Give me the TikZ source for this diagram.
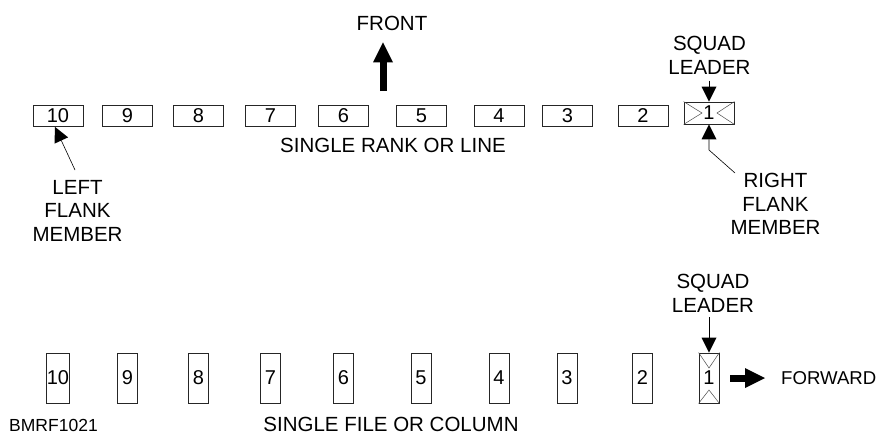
\documentclass[tikz,border=0pt]{standalone}
\usepackage{fontspec}
\setmainfont{Liberation Sans}
\usetikzlibrary{arrows.meta}
\begin{document}
\begin{tikzpicture}[x=1pt,y=-1pt,
  lbl/.style={font=\fontsize{20.5}{23.5}\selectfont, align=center, inner sep=0pt},
  hbox/.style={draw=black!85, line width=0.8pt, minimum width=50pt, minimum height=21pt, inner sep=0pt, font=\fontsize{20}{23.5}\selectfont},
  vbox/.style={draw=black!85, line width=0.8pt, minimum width=20pt, minimum height=50pt, inner sep=0pt, font=\fontsize{20}{23.5}\selectfont},
  xline/.style={draw=black!70, line width=0.5pt},
  ptr/.style={line width=0.6pt, -{Triangle[width=15pt,length=15pt,line width=0pt]}},
  bigarrow/.style={line width=7pt, -{Triangle[width=20pt,length=20pt,line width=0pt]}}]

\useasboundingbox[fill=white] (0,0) rectangle (884,434);

% single rank or line
\foreach \n/\x in {10/58,9/127.5,8/198.5,7/270.5,6/343.5,5/421.5,4/499,3/567.5,2/643}
  \node[hbox] (t\n) at (\x,116) {\n};
\node[hbox, minimum height=22pt] (t1) at (709,113) {1};
\draw[xline] (t1.north west) -- (702,113) -- (t1.south west);
\draw[xline] (t1.north east) -- (717,113) -- (t1.south east);

% single file or column
\foreach \n/\x in {10/58,9/127.5,8/198.5,7/270.5,6/343.5,5/421,4/499,3/567,2/642.5}
  \node[vbox] (b\n) at (\x,378) {\n};
\node[vbox] (b1) at (709,378) {1};
\draw[xline] (b1.north west) -- (709,368) -- (b1.north east);
\draw[xline] (b1.south west) -- (709,390) -- (b1.south east);

% labels
\node[lbl] (front) at (392,23) {FRONT};
\node[lbl] (rank) at (393,145) {SINGLE RANK OR LINE};
\node[lbl] (sl1) at (709.5,55.5) {SQUAD\\LEADER};
\node[lbl] (lfm) at (77.5,210.5) {LEFT\\FLANK\\MEMBER};
\node[lbl] (rfm) at (775.5,204) {RIGHT\\FLANK\\MEMBER};
\node[lbl] (sl2) at (713,293.5) {SQUAD\\LEADER};
\node[lbl, font=\fontsize{18.6}{23.5}\selectfont, anchor=west] (fwd) at (781,378) {FORWARD};
\node[lbl] (file) at (391,424) {SINGLE FILE OR COLUMN};
\node[lbl, font=\fontsize{17.5}{20}\selectfont] (code) at (53.5,425.5) {BMRF1021};

% pointers
\coordinate (fronttail) at (383,91);
\draw[bigarrow] (fronttail) -- ([yshift=-12pt]front.south -| fronttail);
\draw[bigarrow] ([xshift=11pt]b1.east) -- ([xshift=-16pt]fwd.west);

\draw[ptr] ([yshift=-6pt]sl1.south -| t1.north) -- (t1.north);
\coordinate (rfmtail) at (735,173);
\coordinate (rfmbend) at (709,150);
\draw[ptr] (rfmtail) -- (rfmbend) -- (t1.south);
\coordinate (lfmtail) at (75,170);
\draw[ptr] (lfmtail) -- ([xshift=-3pt]t10.south);
\draw[ptr] ([yshift=-4.5pt]sl2.south -| b1.north) -- (b1.north);
\end{tikzpicture}
\end{document}
